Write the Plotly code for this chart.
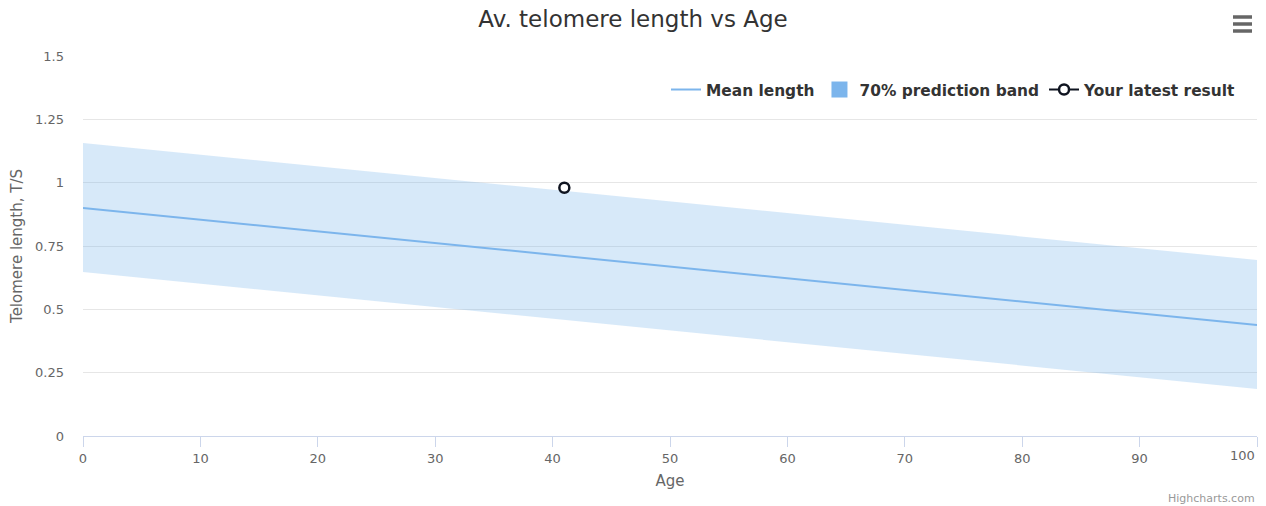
import plotly.graph_objects as go

# Data
ages = [0, 100]
mean_length = [0.900, 0.438]
band_upper = [1.157, 0.695]
band_lower = [0.647, 0.186]
result_age = [41]
result_value = [0.98]

x_ticks = [0, 10, 20, 30, 40, 50, 60, 70, 80, 90]
x_ticktext = ["0", "10", "20", "30", "40", "50", "60", "70", "80", "90"]
x_last_tick = 100
y_ticks = [0, 0.25, 0.5, 0.75, 1, 1.25, 1.5]
y_ticktext = ["0", "0.25", "0.5", "0.75", "1", "1.25", "1.5"]

FONT = "DejaVu Sans, Verdana, sans-serif"
BLUE = "#7cb5ec"

fig = go.Figure()

fig.add_trace(go.Scatter(x=ages, y=band_upper, mode="lines", line=dict(width=0),
                         showlegend=False, hoverinfo="skip"))
fig.add_trace(go.Scatter(x=ages, y=band_lower, mode="lines", line=dict(width=0),
                         fill="tonexty", fillcolor="rgba(124,181,236,0.3)",
                         showlegend=False, hoverinfo="skip"))
fig.add_trace(go.Scatter(x=ages, y=mean_length, mode="lines", name="Mean length",
                         line=dict(color=BLUE, width=2)))
# legend entry for the band
fig.add_trace(go.Scatter(x=[None], y=[None], mode="markers", name="70% prediction band",
                         marker=dict(symbol="square", size=18, color=BLUE)))
fig.add_trace(go.Scatter(x=result_age, y=result_value, mode="lines+markers",
                         name="Your latest result",
                         line=dict(color="#0f1420", width=2),
                         marker=dict(symbol="circle", size=10, color="white",
                                     line=dict(color="#0f1420", width=2.5))))

fig.update_layout(
    width=1266, height=506,
    margin=dict(l=83, r=9, t=56, b=70),
    paper_bgcolor="white", plot_bgcolor="white",
    font=dict(family=FONT, color="#666666", size=13),
    title=dict(text="Av. telomere length vs Age", x=0.5, xanchor="center",
               y=1 - 19 / 506, yanchor="middle",
               font=dict(family=FONT, size=23, color="#333333")),
    legend=dict(orientation="h", x=1 - 16 / 1174, xanchor="right", y=(436 - 90) / 380, yanchor="middle",
                font=dict(family=FONT, size=15.4, color="#333333", weight="bold"),
                bgcolor="rgba(0,0,0,0)", itemwidth=30, traceorder="normal"),
    showlegend=True,
    xaxis=dict(range=[0, 100], tickvals=x_ticks + [x_last_tick], ticktext=x_ticktext + [""],
               showgrid=False, zeroline=False, showline=True, linecolor="#ccd6eb",
               linewidth=1, ticks="outside", ticklen=10, tickcolor="#ccd6eb",
               automargin=False,
               tickfont=dict(size=13, color="#666666"),
               title=dict(text="Age", font=dict(size=15, color="#666666"), standoff=10)),
    yaxis=dict(range=[0, 1.5], tickvals=y_ticks, ticktext=y_ticktext,
               showgrid=True, gridcolor="#e6e6e6", zeroline=False, showline=False,
               tickfont=dict(size=13, color="#666666"), ticks="", ticklabelstandoff=18,
               automargin=False,
               title=dict(text="Telomere length, T/S", font=dict(size=15, color="#666666"),
                          standoff=8)),
    hovermode="x",
)

# last x tick label, shifted left to stay inside the chart (as Highcharts does)
fig.add_annotation(text=str(x_last_tick), x=x_last_tick, xref="x", yref="paper",
                   y=(436 - 455) / 380, yanchor="middle", xanchor="right", xshift=0,
                   showarrow=False, font=dict(family=FONT, size=13, color="#666666"))

# Hamburger menu icon
for yy in [17, 24, 31]:
    fig.add_shape(type="line", xref="paper", yref="paper",
                  x0=(1233 - 83) / 1174, x1=(1252 - 83) / 1174,
                  y0=(436 - yy) / 380, y1=(436 - yy) / 380,
                  line=dict(color="#666666", width=3.5))

fig.add_annotation(text="Highcharts.com", xref="paper", yref="paper",
                   x=1, xanchor="right", y=(436 - 498) / 380, yanchor="middle",
                   showarrow=False, font=dict(family=FONT, size=11, color="#999999"))

fig.write_html("out.html", config={"displayModeBar": False},
               post_script="document.body.style.margin='0';")
